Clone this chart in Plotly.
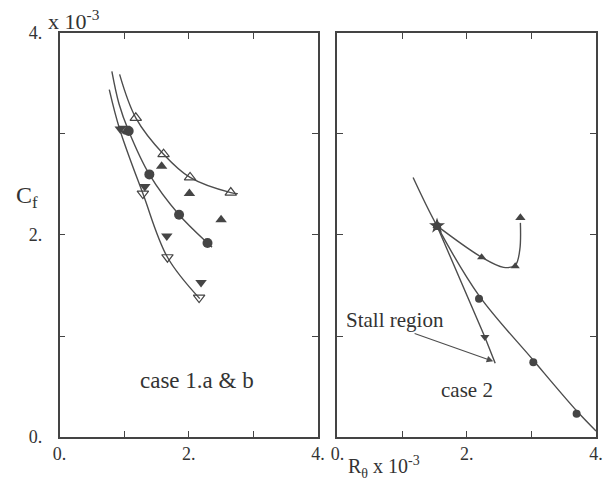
import plotly.graph_objects as go

# ---------------- data ----------------
# Left panel: case 1.a & b
curveA_x = [0.93, 1.18, 1.61, 2.02, 2.65, 2.76]
curveA_y = [3.59, 3.16, 2.80, 2.57, 2.42, 2.41]
curveB_x = [0.81, 0.92, 1.07, 1.39, 1.85, 2.29, 2.36]
curveB_y = [3.62, 3.30, 3.03, 2.60, 2.20, 1.92, 1.88]
curveC_x = [0.77, 0.93, 1.29, 1.67, 2.17]
curveC_y = [3.44, 3.05, 2.41, 1.78, 1.37]

open_up_x = [1.18, 1.61, 2.02, 2.65]
open_up_y = [3.16, 2.80, 2.57, 2.42]
fill_up_x = [1.04, 1.58, 2.01, 2.50]
fill_up_y = [3.03, 2.68, 2.41, 2.15]
fill_circ_x = [1.07, 1.39, 1.85, 2.29]
fill_circ_y = [3.03, 2.60, 2.20, 1.92]
fill_down_x = [0.94, 1.32, 1.66, 2.19]
fill_down_y = [3.05, 2.48, 1.99, 1.53]
open_down_x = [1.00, 1.29, 1.67, 2.16]
open_down_y = [3.05, 2.41, 1.78, 1.38]

# Right panel: case 2
main_x = [1.17, 1.54, 2.19, 3.03, 3.70, 4.00]
main_y = [2.57, 2.09, 1.40, 0.76, 0.26, 0.06]
c2_circ_x = [1.54, 2.19, 3.03, 3.70]
c2_circ_y = [2.09, 1.37, 0.74, 0.23]
branch_up_x = [1.54, 2.23, 2.57, 2.75, 2.82, 2.83]
branch_up_y = [2.09, 1.78, 1.68, 1.70, 1.85, 2.12]
c2_up_x = [1.54, 2.23, 2.75]
c2_up_y = [2.09, 1.78, 1.69]
c2_arrow_x = [2.83]
c2_arrow_y = [2.17]
branch_down_x = [1.54, 2.28, 2.44]
branch_down_y = [2.09, 0.99, 0.73]
c2_down_x = [1.54, 2.28]
c2_down_y = [2.09, 0.99]
c2_star_x = [1.54]
c2_star_y = [2.09]

tick_vals = [0, 1, 2, 3, 4]
tick_text = ["0.", "", "2.", "", "4."]

LINE = "#4d4d4d"
MARK = "#454545"
FONT = "Liberation Serif"

fig = go.Figure()

def line(x, y, xa, ya, shape="spline"):
    fig.add_trace(go.Scatter(x=x, y=y, mode="lines", xaxis=xa, yaxis=ya,
                             line=dict(color=LINE, width=1.4, shape=shape, smoothing=1.0),
                             showlegend=False, hoverinfo="skip"))

def marks(x, y, xa, ya, symbol, size=10):
    openm = symbol.endswith("-open")
    fig.add_trace(go.Scatter(x=x, y=y, mode="markers", xaxis=xa, yaxis=ya,
                             marker=dict(symbol=symbol, size=size,
                                         color=MARK,
                                         line=dict(color=MARK, width=1.2 if openm else 0)),
                             showlegend=False))

# left panel
line(curveA_x, curveA_y, "x", "y")
line(curveB_x, curveB_y, "x", "y")
line(curveC_x, curveC_y, "x", "y")
marks(open_up_x, open_up_y, "x", "y", "triangle-up-open", 10)
marks(fill_up_x, fill_up_y, "x", "y", "triangle-up", 10)
marks(fill_circ_x, fill_circ_y, "x", "y", "circle", 10)
marks(fill_down_x, fill_down_y, "x", "y", "triangle-down", 10)
marks(open_down_x, open_down_y, "x", "y", "triangle-down-open", 10)

# right panel
line(main_x, main_y, "x2", "y2")
line(branch_up_x, branch_up_y, "x2", "y2")
line(branch_down_x, branch_down_y, "x2", "y2", shape="linear")
marks(c2_circ_x, c2_circ_y, "x2", "y2", "circle", 8)
marks(c2_up_x, c2_up_y, "x2", "y2", "triangle-up", 8)
marks(c2_down_x, c2_down_y, "x2", "y2", "triangle-down", 8)
marks(c2_star_x, c2_star_y, "x2", "y2", "star", 12)
marks(c2_arrow_x, c2_arrow_y, "x2", "y2", "triangle-up", 9)

axis_common = dict(range=[0, 4], tickvals=tick_vals, showline=True, linecolor="#444",
                   linewidth=1.5, mirror="ticks", ticks="inside", ticklen=6,
                   tickcolor="#444", tickwidth=1.2, showgrid=False, zeroline=False,
                   automargin=False, ticklabeloverflow="allow",
                   tickfont=dict(family=FONT, size=18, color="#333"))

fig.update_layout(
    width=603, height=483,
    margin=dict(l=0, r=0, t=0, b=0),
    paper_bgcolor="white", plot_bgcolor="white",
    xaxis=dict(domain=[0.0987, 0.5274], anchor="y", ticktext=tick_text,
               ticklabelstandoff=0, **axis_common),
    yaxis=dict(domain=[0.0952, 0.9317], anchor="x", ticktext=tick_text,
               ticklabelstandoff=12, **axis_common),
    xaxis2=dict(domain=[0.5597, 0.9884], anchor="y2", ticktext=tick_text,
                ticklabelstandoff=0, **axis_common),
    yaxis2=dict(domain=[0.0952, 0.9317], anchor="x2", ticktext=tick_text,
                showticklabels=False, **axis_common),
)

ann_font = dict(family=FONT, size=21, color="#333")
fig.add_annotation(text="x 10<sup>-3</sup>", xref="paper", yref="paper",
                   x=46 / 603, y=1 - 20 / 483, xanchor="left", yanchor="middle",
                   showarrow=False, font=dict(family=FONT, size=22, color="#333"))
fig.add_annotation(text="C<sub>f</sub>", xref="paper", yref="paper",
                   x=27 / 603, y=1 - 197 / 483, xanchor="center", yanchor="middle",
                   showarrow=False, font=dict(family=FONT, size=24, color="#333"))
fig.add_annotation(text="R<sub>θ</sub> x 10<sup>-3</sup>", xref="paper", yref="paper",
                   x=384 / 603, y=0, xanchor="center", yanchor="bottom",
                   showarrow=False, font=dict(family=FONT, size=20, color="#333"))
fig.add_annotation(text="case 1.a &amp; b", xref="x", yref="y", x=2.13, y=0.56,
                   showarrow=False, font=dict(family=FONT, size=23, color="#333"))
fig.add_annotation(text="case 2", xref="x2", yref="y2", x=2.0, y=0.47,
                   showarrow=False, font=ann_font)
fig.add_annotation(text="Stall region", xref="x2", yref="y2", x=0.1, y=1.16,
                   xanchor="left", showarrow=False, font=ann_font)
fig.add_annotation(text="", xref="x2", yref="y2", x=2.41, y=0.75,
                   axref="x2", ayref="y2", ax=1.17, ay=1.03,
                   showarrow=True, arrowhead=2, arrowsize=1.2, arrowwidth=1.1,
                   arrowcolor=LINE)

fig.write_html("out.html")
